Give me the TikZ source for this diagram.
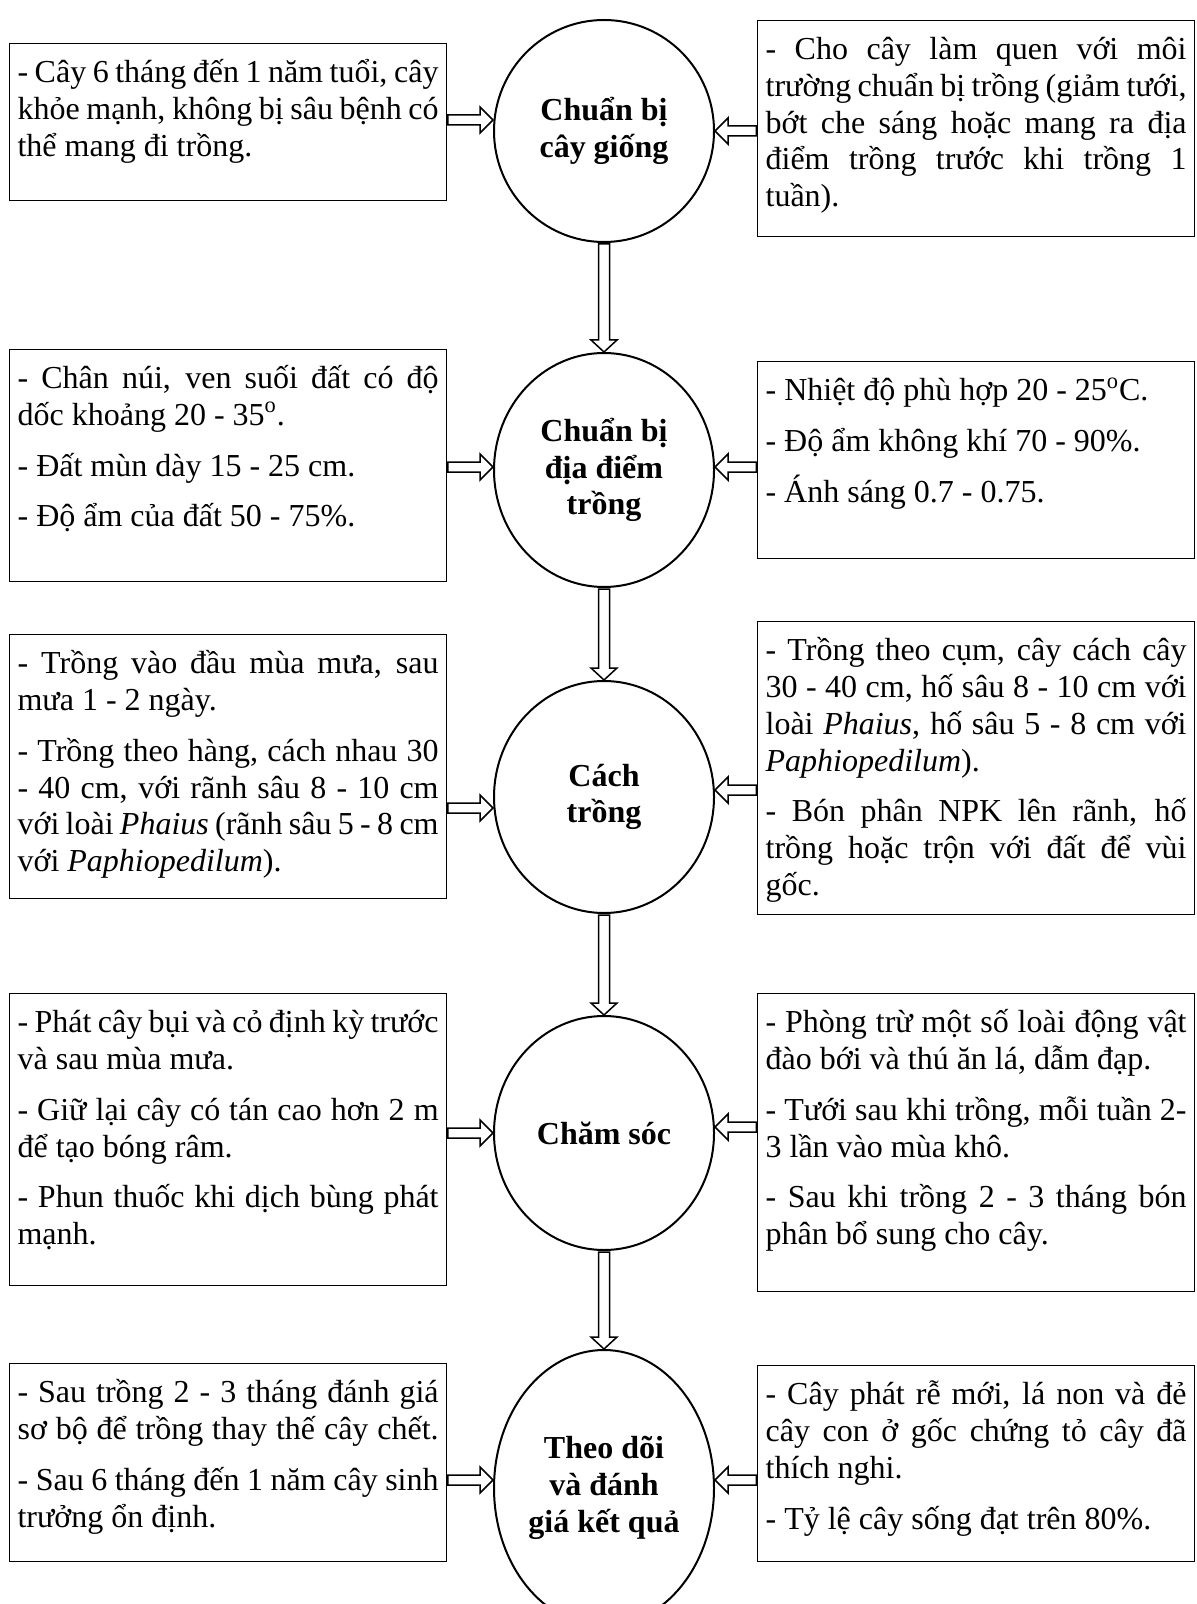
\documentclass[tikz,border=0pt]{standalone}
\usepackage{fontspec}
\setmainfont{Liberation Serif}
\usetikzlibrary{shapes.geometric,calc}
\newcommand\myj[1]{\makebox[\linewidth][s]{#1}}
\newcommand\bx[2]{\parbox[c][#1][t]{210.5pt}{\rule{0pt}{16.5pt}#2}}
\newcommand\harrR[2]{\draw[blockarr] let \p1=(#1), \p2=(#2) in (\x1+0.3pt,\y2+2.5pt) -- (\x2-6.5pt,\y2+2.5pt) -- (\x2-6.5pt,\y2+6.5pt) -- (\x2,\y2) -- (\x2-6.5pt,\y2-6.5pt) -- (\x2-6.5pt,\y2-2.5pt) -- (\x1+0.3pt,\y2-2.5pt) -- cycle;}
\newcommand\harrL[2]{\draw[blockarr] let \p1=(#1), \p2=(#2) in (\x1-0.3pt,\y2+2.5pt) -- (\x2+6.5pt,\y2+2.5pt) -- (\x2+6.5pt,\y2+6.5pt) -- (\x2,\y2) -- (\x2+6.5pt,\y2-6.5pt) -- (\x2+6.5pt,\y2-2.5pt) -- (\x1-0.3pt,\y2-2.5pt) -- cycle;}
\newcommand\varrD[2]{\draw[blockarr] let \p1=(#1), \p2=(#2) in (\x2-2.75pt,\y1-0.5pt) -- (\x2-2.75pt,\y2+6pt) -- (\x2-6.5pt,\y2+6pt) -- (\x2,\y2) -- (\x2+6.5pt,\y2+6pt) -- (\x2+2.75pt,\y2+6pt) -- (\x2+2.75pt,\y1-0.5pt) -- cycle;}
\begin{document}
\begin{tikzpicture}[x=0.5pt,y=-0.5pt,
  tbox/.style={draw, line width=0.6pt, inner xsep=4pt, inner ysep=3pt, anchor=north west, font=\fontsize{16pt}{18.4pt}\selectfont},
  circ/.style={draw, ellipse, line width=1pt, minimum width=110pt, inner sep=0pt},
  clbl/.style={font=\fontsize{16pt}{18.4pt}\selectfont\bfseries, align=center, inner sep=0pt},
  blockarr/.style={draw, line width=0.75pt, line join=miter}]
\clip (0,0) rectangle (1197,1604);
\fill[white] (0,0) rectangle (1197,1604);

% central shapes
\node[circ, minimum height=111pt, label={[clbl]center:Chuẩn bị\\cây giống}] (c1) at (604,131) {};
\node[circ, minimum height=117pt, label={[clbl]center:Chuẩn bị\\địa điểm\\trồng}] (c2) at (604,470) {};
\node[circ, minimum height=116pt, label={[clbl]center:Cách\\trồng}] (c3) at (604,797) {};
\node[circ, minimum height=117pt, label={[clbl]center:Chăm sóc}] (c4) at (604,1133) {};
\node[circ, minimum height=138pt, label={[clbl]center:Theo dõi\\và đánh\\giá kết quả}] (c5) at (604,1488) {};

% row 1
\node[tbox] (b1l) at (9,43) {\bx{72.5pt}{\myj{- Cây 6 tháng đến 1 năm tuổi, cây}\\\myj{khỏe mạnh, không bị sâu bệnh có}\\thể mang đi trồng.}};
\node[tbox] (b1r) at (757,20) {\bx{102pt}{\myj{- Cho cây làm quen với môi}\\\myj{trường chuẩn bị trồng (giảm tưới,}\\\myj{bớt che sáng hoặc mang ra địa}\\\myj{điểm trồng trước khi trồng 1}\\tuần).}};

% row 2
\node[tbox] (b2l) at (9,349) {\bx{110pt}{\myj{- Chân núi, ven suối đất có độ}\\dốc khoảng 20 - 35\textsuperscript{o}.\\[7pt]- Đất mùn dày 15 - 25 cm.\\[7pt]- Độ ẩm của đất 50 - 75\%.}};
\node[tbox] (b2r) at (757,361) {\bx{92.5pt}{- Nhiệt độ phù hợp 20 - 25\textsuperscript{o}C.\\[7pt]- Độ ẩm không khí 70 - 90\%.\\[7pt]- Ánh sáng 0.7 - 0.75.}};

% row 3
\node[tbox] (b3l) at (9,634) {\bx{126pt}{\myj{- Trồng vào đầu mùa mưa, sau}\\mưa 1 - 2 ngày.\\[7pt]\myj{- Trồng theo hàng, cách nhau 30}\\\myj{- 40 cm, với rãnh sâu 8 - 10 cm}\\\myj{với loài \textit{Phaius} (rãnh sâu 5 - 8 cm}\\với \textit{Paphiopedilum}).}};
\node[tbox] (b3r) at (757,621) {\bx{140.5pt}{\myj{- Trồng theo cụm, cây cách cây}\\\myj{30 - 40 cm, hố sâu 8 - 10 cm với}\\\myj{loài \textit{Phaius}, hố sâu 5 - 8 cm với}\\\textit{Paphiopedilum}).\\[7pt]\myj{- Bón phân NPK lên rãnh, hố}\\\myj{trồng hoặc trộn với đất để vùi}\\gốc.}};

% row 4
\node[tbox] (b4l) at (9,993) {\bx{140pt}{\myj{- Phát cây bụi và cỏ định kỳ trước}\\và sau mùa mưa.\\[7pt]\myj{- Giữ lại cây có tán cao hơn 2 m}\\để tạo bóng râm.\\[7pt]\myj{- Phun thuốc khi dịch bùng phát}\\mạnh.}};
\node[tbox] (b4r) at (757,993) {\bx{143pt}{\myj{- Phòng trừ một số loài động vật}\\đào bới và thú ăn lá, dẫm đạp.\\[7pt]\myj{- Tưới sau khi trồng, mỗi tuần 2-}\\3 lần vào mùa khô.\\[7pt]\myj{- Sau khi trồng 2 - 3 tháng bón}\\phân bổ sung cho cây.}};

% row 5
\node[tbox] (b5l) at (9,1363) {\bx{93pt}{\myj{- Sau trồng 2 - 3 tháng đánh giá}\\\myj{sơ bộ để trồng thay thế cây chết.}\\[7pt]\myj{- Sau 6 tháng đến 1 năm cây sinh}\\trưởng ổn định.}};
\node[tbox] (b5r) at (757,1365) {\bx{92pt}{\myj{- Cây phát rễ mới, lá non và đẻ}\\\myj{cây con ở gốc chứng tỏ cây đã}\\thích nghi.\\[7pt]- Tỷ lệ cây sống đạt trên 80\%.}};

% arrow tips
\path (c1.west) ++(0,5.5pt) coordinate (t1l);
\path (c1.east) ++(0,0pt) coordinate (t1r);
\path (c2.west) ++(0,1.5pt) coordinate (t2l);
\path (c2.east) ++(0,1.5pt) coordinate (t2r);
\path (c3.west) ++(0,-5.5pt) coordinate (t3l);
\path (c3.east) ++(0,3.5pt) coordinate (t3r);
\path (c4.west) ++(0,0pt) coordinate (t4l);
\path (c4.east) ++(0,3pt) coordinate (t4r);
\path (c5.west) ++(0,4pt) coordinate (t5l);
\path (c5.east) ++(0,4pt) coordinate (t5r);

\harrR{b1l.east}{t1l}
\harrL{b1r.west}{t1r}
\harrR{b2l.east}{t2l}
\harrL{b2r.west}{t2r}
\harrR{b3l.east}{t3l}
\harrL{b3r.west}{t3r}
\harrR{b4l.east}{t4l}
\harrL{b4r.west}{t4r}
\harrR{b5l.east}{t5l}
\harrL{b5r.west}{t5r}

\varrD{c1.south}{c2.north}
\varrD{c2.south}{c3.north}
\varrD{c3.south}{c4.north}
\varrD{c4.south}{c5.north}
\end{tikzpicture}
\end{document}
